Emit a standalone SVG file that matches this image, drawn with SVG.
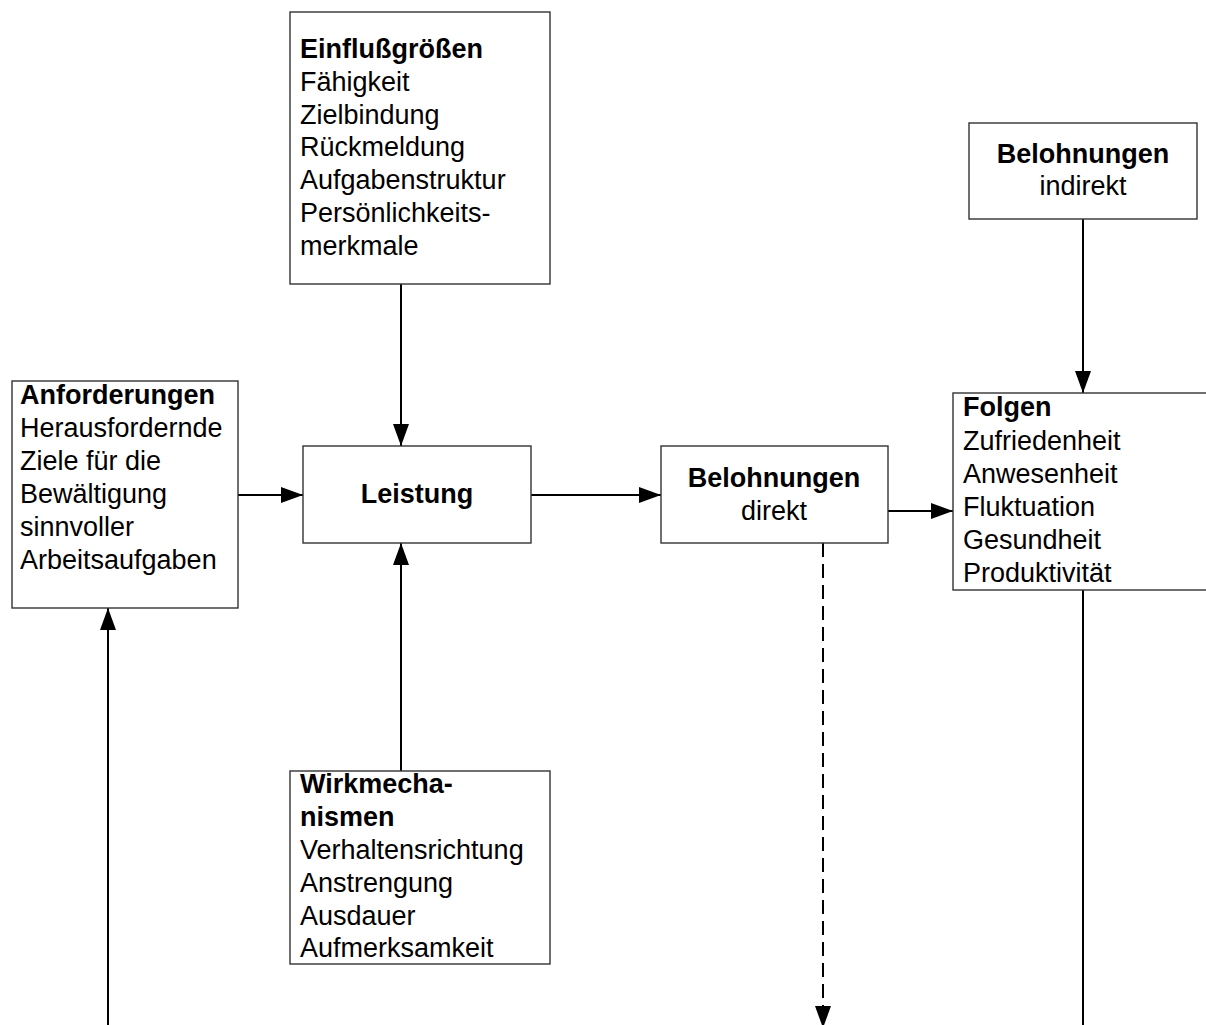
<svg xmlns="http://www.w3.org/2000/svg" width="1206" height="1025" viewBox="0 0 1206 1025">
  <style>
    .box { fill: #ffffff; stroke: #333333; stroke-width: 1.4; }
    .t { font-family: "Liberation Sans", Arial, sans-serif; font-size: 27px; fill: #000000; }
    .b { font-weight: bold; }
    .mid { text-anchor: middle; }
    .link { stroke: #000000; stroke-width: 2; fill: none; }
    .dash { stroke-dasharray: 14 7; }
  </style>
  <defs>
    <marker id="arrow" markerUnits="userSpaceOnUse" markerWidth="22" markerHeight="16" refX="22" refY="8" orient="auto">
      <path d="M0,0 L22,8 L0,16 z" fill="#000000"/>
    </marker>
  </defs>

  <rect width="1206" height="1025" fill="#ffffff"/>

  <!-- connectors -->
  <g id="connectors">
    <line class="link" x1="401" y1="284" x2="401" y2="446" marker-end="url(#arrow)"/>
    <line class="link" x1="401" y1="771" x2="401" y2="543" marker-end="url(#arrow)"/>
    <line class="link" x1="108" y1="1025" x2="108" y2="608" marker-end="url(#arrow)"/>
    <line class="link" x1="238" y1="495" x2="303" y2="495" marker-end="url(#arrow)"/>
    <line class="link" x1="531" y1="495" x2="661" y2="495" marker-end="url(#arrow)"/>
    <line class="link" x1="888" y1="511" x2="953" y2="511" marker-end="url(#arrow)"/>
    <line class="link" x1="1083" y1="219" x2="1083" y2="393" marker-end="url(#arrow)"/>
    <line class="link dash" x1="823" y1="543" x2="823" y2="1028" marker-end="url(#arrow)"/>
    <line class="link" x1="1083" y1="590" x2="1083" y2="1025"/>
  </g>

  <!-- influencing factors -->
  <g id="einflussgroessen">
    <rect class="box" x="290" y="12" width="260" height="272"/>
    <text class="t b" x="300" y="58">Einflußgrößen</text>
    <text class="t" x="300" y="91">Fähigkeit</text>
    <text class="t" x="300" y="124">Zielbindung</text>
    <text class="t" x="300" y="156">Rückmeldung</text>
    <text class="t" x="300" y="189">Aufgabenstruktur</text>
    <text class="t" x="300" y="222">Persönlichkeits-</text>
    <text class="t" x="300" y="255">merkmale</text>
  </g>

  <!-- indirect rewards -->
  <g id="belohnungen-indirekt">
    <rect class="box" x="969" y="123" width="228" height="96"/>
    <text class="t b mid" x="1083" y="163">Belohnungen</text>
    <text class="t mid" x="1083" y="195">indirekt</text>
  </g>

  <!-- demands -->
  <g id="anforderungen">
    <rect class="box" x="12" y="381" width="226" height="227"/>
    <text class="t b" x="20" y="404">Anforderungen</text>
    <text class="t" x="20" y="437">Herausfordernde</text>
    <text class="t" x="20" y="470">Ziele für die</text>
    <text class="t" x="20" y="503">Bewältigung</text>
    <text class="t" x="20" y="536">sinnvoller</text>
    <text class="t" x="20" y="569">Arbeitsaufgaben</text>
  </g>

  <!-- performance -->
  <g id="leistung">
    <rect class="box" x="303" y="446" width="228" height="97"/>
    <text class="t b mid" x="417" y="503">Leistung</text>
  </g>

  <!-- direct rewards -->
  <g id="belohnungen-direkt">
    <rect class="box" x="661" y="446" width="227" height="97"/>
    <text class="t b mid" x="774" y="487">Belohnungen</text>
    <text class="t mid" x="774" y="520">direkt</text>
  </g>

  <!-- consequences -->
  <g id="folgen">
    <rect class="box" x="953" y="393" width="260" height="197"/>
    <text class="t b" x="963" y="416">Folgen</text>
    <text class="t" x="963" y="450">Zufriedenheit</text>
    <text class="t" x="963" y="483">Anwesenheit</text>
    <text class="t" x="963" y="516">Fluktuation</text>
    <text class="t" x="963" y="549">Gesundheit</text>
    <text class="t" x="963" y="582">Produktivität</text>
  </g>

  <!-- mechanisms -->
  <g id="wirkmechanismen">
    <rect class="box" x="290" y="771" width="260" height="193"/>
    <text class="t b" x="300" y="793">Wirkmecha-</text>
    <text class="t b" x="300" y="826">nismen</text>
    <text class="t" x="300" y="859">Verhaltensrichtung</text>
    <text class="t" x="300" y="892">Anstrengung</text>
    <text class="t" x="300" y="925">Ausdauer</text>
    <text class="t" x="300" y="957">Aufmerksamkeit</text>
  </g>
</svg>
